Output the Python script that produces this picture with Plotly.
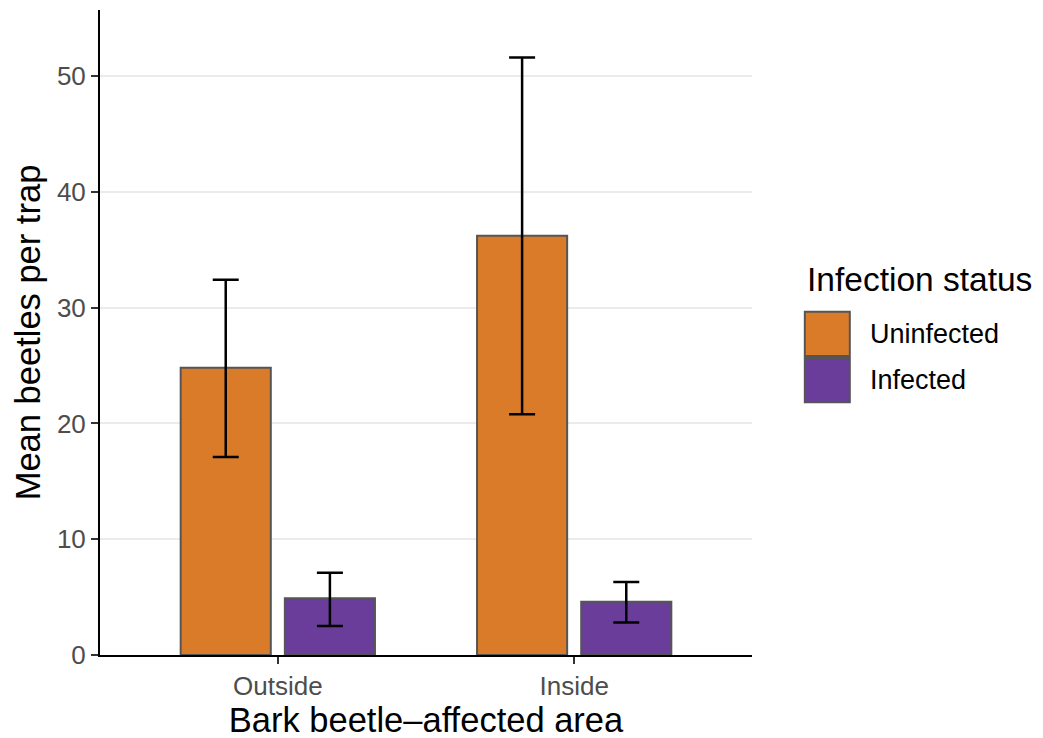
import plotly.graph_objects as go

# data
areas = ["Outside", "Inside"]
uninfected_mean = [24.8, 36.2]
uninfected_upper = [32.4, 51.6]
uninfected_lower = [17.1, 20.8]
infected_mean = [4.9, 4.6]
infected_upper = [7.1, 6.3]
infected_lower = [2.5, 2.8]

series_names = ["Uninfected", "Infected"]
series_colors = ["#D97B29", "#6A3D9A"]
FONT = "Liberation Sans, Arial, sans-serif"


def err(mean, upper, lower):
    return dict(type="data", symmetric=False,
                array=[u - m for u, m in zip(upper, mean)],
                arrayminus=[m - l for m, l in zip(mean, lower)],
                color="black", thickness=2.5, width=13)


fig = go.Figure()
fig.add_trace(go.Bar(name=series_names[0], x=areas, y=uninfected_mean,
                     marker=dict(color=series_colors[0], line=dict(color="#555555", width=2)),
                     error_y=err(uninfected_mean, uninfected_upper, uninfected_lower)))
fig.add_trace(go.Bar(name=series_names[1], x=areas, y=infected_mean,
                     marker=dict(color=series_colors[1], line=dict(color="#555555", width=2)),
                     error_y=err(infected_mean, infected_upper, infected_lower)))

# page body has an 8px margin, so margins are shifted to land the plot where the reference has it
fig.update_layout(
    width=1043, height=738,
    margin=dict(l=92, r=299, t=2, b=91),
    plot_bgcolor="white", paper_bgcolor="white",
    barmode="group", bargap=0.297, bargroupgap=0.135,
    showlegend=False,
    font=dict(family=FONT),
    xaxis=dict(range=[-0.6, 1.6], showline=True, linecolor="black", linewidth=2,
               ticks="outside", ticklen=7, tickwidth=2, tickcolor="#333333",
               tickfont=dict(size=26, color="#4d4d4d"),
               title=dict(text="Bark beetle\u2013affected area", font=dict(size=34.5, color="black"), standoff=0)),
    yaxis=dict(range=[0, 55.7], showline=True, linecolor="black", linewidth=2,
               tickvals=[0, 10, 20, 30, 40, 50],
               ticks="outside", ticklen=7, tickwidth=2, tickcolor="#333333",
               tickfont=dict(size=26, color="#4d4d4d"),
               showgrid=True, gridcolor="#ebebeb", gridwidth=2, zeroline=False,
               title=dict(text="Mean beetles per trap", font=dict(size=34.5, color="black"), standoff=6)),
)

# legend drawn by hand so the keys match the large ggplot-style boxes
fig.add_annotation(x=1.081, y=0.582, xref="paper", yref="paper", text="Infection status",
                   showarrow=False, xanchor="left", yanchor="middle",
                   font=dict(size=33.5, color="black", family=FONT))
key_tops = [0.532, 0.4605]
for name, col, top in zip(series_names, series_colors, key_tops):
    fig.add_shape(type="rect", xref="paper", yref="paper", x0=1.081, x1=1.150,
                  y0=top - 0.0685, y1=top, fillcolor=col, line=dict(color="#555555", width=2))
    fig.add_annotation(x=1.178, y=top - 0.034, xref="paper", yref="paper", text=name,
                       showarrow=False, xanchor="left", yanchor="middle",
                       font=dict(size=27, color="black", family=FONT))

fig.write_html("out.html")
